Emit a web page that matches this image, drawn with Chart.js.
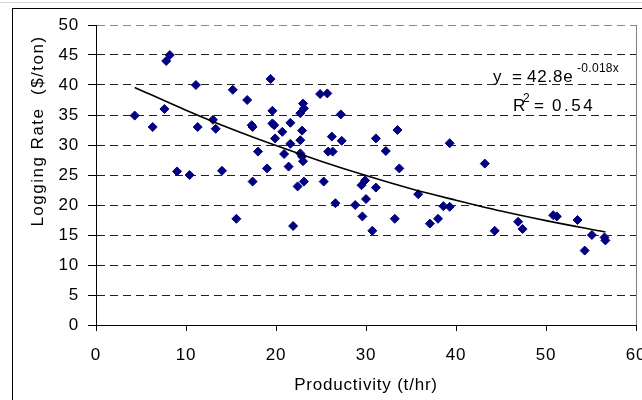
<!DOCTYPE html>
<html>
<head>
<meta charset="utf-8">
<script src="https://cdn.jsdelivr.net/npm/chart.js"></script>
<style>
    html, body { margin: 0; padding: 0; background: #fff; overflow: hidden; }
    body { width: 642px; height: 400px; position: relative; }
    #topline { position: absolute; left: 0; top: 2px; width: 642px; height: 1px; background: #d4d4d4; }
    #frame { position: absolute; left: 12px; top: 8px; width: 700px; height: 500px; border: 1px solid #000; }
    #wrap { position: absolute; left: 0; top: 0; width: 660px; height: 400px; }
</style>
</head>
<body>
<div id="topline"></div>
<div id="frame"></div>
<div id="wrap"><canvas id="loggingChart" width="660" height="400"></canvas></div>
<script>
// Productivity (t/hr) vs logging rate ($/ton)
const productivity = [
    4.3, 6.3, 7.6, 7.8, 8.2, 9.0, 10.4, 11.1, 11.3, 13.0,
    13.3, 14.0, 15.2, 15.6, 16.8, 17.3, 17.4, 17.4, 18.0, 19.0,
    19.4, 19.6, 19.6, 19.8, 19.9, 20.7, 20.9, 21.4, 21.6, 21.6,
    21.9, 22.4, 22.7, 22.7, 22.7, 22.9, 22.9, 23.0, 23.0, 23.1,
    23.1, 24.9, 25.3, 25.7, 25.8, 26.2, 26.3, 26.6, 27.2, 27.3,
    28.8, 29.5, 29.6, 29.9, 30.0, 30.7, 31.1, 31.1, 32.2, 33.2,
    33.5, 33.7, 35.8, 37.1, 38.0, 38.6, 39.3, 39.3, 43.2, 44.3,
    46.9, 47.4, 50.8, 51.2, 53.5, 54.3, 55.1, 56.5, 56.6
];
const loggingRate = [
    34.9, 33.0, 36.0, 44.0, 45.0, 25.6, 25.0, 40.0, 33.0, 34.2,
    32.7, 25.7, 39.2, 17.7, 37.5, 33.3, 33.0, 23.9, 28.9, 26.1,
    41.0, 35.7, 33.6, 33.3, 31.1, 32.2, 28.5, 26.4, 33.7, 30.2,
    16.5, 23.1, 35.3, 30.8, 28.6, 32.4, 28.1, 36.9, 27.3, 36.1,
    23.9, 38.5, 23.9, 38.6, 28.9, 31.4, 28.9, 20.3, 35.1, 30.7,
    20.0, 23.3, 18.1, 24.1, 21.0, 15.7, 31.1, 22.9, 29.0, 17.7,
    32.5, 26.1, 21.8, 16.9, 17.7, 19.8, 19.7, 30.3, 26.9, 15.7,
    17.2, 16.0, 18.3, 18.1, 17.5, 12.4, 15.0, 14.6, 14.1
];

// points along the drawn trend line (y = 42.8e^-0.018x)
const trendX = [4.3, 10, 15, 20, 25, 30, 35, 40, 45, 50, 56.6];
const trendY = [39.6, 35.8, 32.7, 29.9, 27.3, 24.9, 22.7, 20.8, 19.0, 17.4, 15.5];

const xTicks = [0, 10, 20, 30, 40, 50, 60];
const yTicks = [0, 5, 10, 15, 20, 25, 30, 35, 40, 45, 50];

const FONT = '"Liberation Sans", Arial, sans-serif';

Chart.defaults.font.family = FONT;
Chart.defaults.font.size = 17;
Chart.defaults.color = '#000';

// equation, R² and the y axis title
const textPlugin = {
    id: 'textPlugin',
    beforeDraw(chart) {
        chart.ctx.letterSpacing = '0.8px';
    },
    afterDraw(chart) {
        const c = chart.ctx;
        c.save();
        c.fillStyle = '#000';
        c.textAlign = 'left';
        c.textBaseline = 'alphabetic';
        c.font = '17px ' + FONT;
        c.letterSpacing = '0.8px';
        c.fillText('y', 493, 81.5);
        c.fillText('=', 512, 81.5);
        c.fillText('42.8e', 527, 81.5);
        c.fillText('R', 513, 110.5);
        c.fillText('=', 534, 110.5);
        c.letterSpacing = '2.5px';
        c.fillText('0.54', 552, 110.5);
        c.font = '12px ' + FONT;
        c.letterSpacing = '0.3px';
        c.fillText('-0.018x', 577, 71.5);
        c.fillText('2', 523, 101.5);

        c.font = '17px ' + FONT;
        c.letterSpacing = '1.5px';
        c.translate(38, 131);
        c.rotate(-Math.PI / 2);
        c.textAlign = 'center';
        c.textBaseline = 'middle';
        c.fillText('Logging Rate  ($/ton)', 0, 0);
        c.restore();
    }
};

const ctx = document.getElementById('loggingChart').getContext('2d');

const loggingChart = new Chart(ctx, {
    type: 'scatter',
    data: {
        datasets: [{
            label: 'Trend',
            data: trendX.map((x, i) => ({ x: x, y: trendY[i] })),
            showLine: true,
            borderColor: '#000',
            borderWidth: 1.6,
            pointRadius: 0,
            cubicInterpolationMode: 'monotone',
            order: 0
        }, {
            label: 'Logging Rate',
            data: productivity.map((x, i) => ({ x: x, y: loggingRate[i] })),
            pointStyle: 'rectRot',
            pointRadius: 4.5,
            backgroundColor: '#000080',
            borderColor: '#000080',
            borderWidth: 1,
            order: 1
        }]
    },
    options: {
        responsive: false,
        animation: false,
        devicePixelRatio: 1,
        layout: {
            padding: { left: 0, right: 24, top: 25, bottom: 0 }
        },
        plugins: {
            legend: { display: false },
            tooltip: { enabled: false }
        },
        scales: {
            x: {
                type: 'linear',
                min: 0,
                max: 60,
                afterBuildTicks: (s) => { s.ticks = xTicks.map(v => ({ value: v })); },
                afterFit: (s) => { s.height = 75; },
                ticks: { padding: 14, maxRotation: 0 },
                grid: {
                    drawOnChartArea: true,
                    color: (c) => (c.tick && c.tick.value === 60 ? '#808080' : 'rgba(0,0,0,0)'),
                    tickColor: '#000',
                    tickLength: 6
                },
                border: { color: '#000', width: 1 },
                title: {
                    display: true,
                    text: 'Productivity (t/hr)',
                    padding: { top: 0, bottom: 4 },
                    font: { size: 17 }
                }
            },
            y: {
                type: 'linear',
                min: 0,
                max: 50,
                afterBuildTicks: (s) => { s.ticks = yTicks.map(v => ({ value: v })); },
                afterFit: (s) => { s.width = 96; },
                ticks: { padding: 9 },
                grid: {
                    color: (c) => (c.tick && c.tick.value === 50 ? '#8a8a8a' : '#222'),
                    tickColor: '#000',
                    tickLength: 8,
                    tickBorderDash: []
                },
                border: { color: '#000', width: 1, dash: [8, 5] }
            }
        }
    },
    plugins: [textPlugin]
});
</script>
</body>
</html>
